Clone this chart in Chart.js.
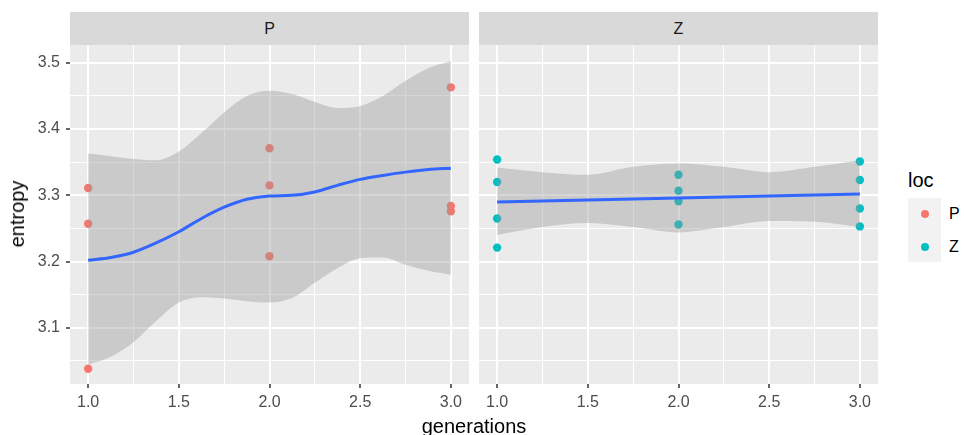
<!DOCTYPE html>
<html>
<head>
<meta charset="utf-8">
<script src="https://cdn.jsdelivr.net/npm/chart.js@4"></script>
<style>
  body { margin: 0; width: 964px; height: 435px; background: #fff; position: relative; overflow: hidden;
         font-family: "Liberation Sans", Arial, sans-serif; }
  canvas { position: absolute; top: 45px; }
  .strip { position: absolute; top: 12px; width: 399px; height: 33px; background: #D9D9D9; color: #1A1A1A;
           font-size: 16px; line-height: 33px; text-align: center; }
  .title { position: absolute; color: #000; font-size: 20px; line-height: 24px; white-space: nowrap; }
  .key { position: absolute; left: 908px; top: 198px; width: 33px; height: 64px; background: #F2F2F2; }
  .dot { position: absolute; width: 8.5px; height: 8.5px; border-radius: 50%; }
  .klab { position: absolute; left: 949px; font-size: 16px; line-height: 20px; color: #000; }
</style>
</head>
<body>
<div class="strip" style="left:70px">P</div>
<div class="strip" style="left:479px">Z</div>
<canvas id="panelP" width="469" height="390" style="left:0"></canvas>
<canvas id="panelZ" width="399" height="390" style="left:479px"></canvas>
<div class="title" style="left:474px; top:414px; transform:translateX(-50%)">generations</div>
<div class="title" style="left:17px; top:214px; transform:translate(-50%,-50%) rotate(-90deg)">entropy</div>
<div class="title" style="left:908px; top:168px">loc</div>
<div class="key"></div>
<div class="dot" style="left:920.75px; top:209.75px; background:#F8766D"></div>
<div class="dot" style="left:920.75px; top:242.75px; background:#00BFC4"></div>
<div class="klab" style="top:204px">P</div>
<div class="klab" style="top:237px">Z</div>
<script>
// raw points per facet
const pGen = [1, 1, 1, 2, 2, 2, 3, 3, 3];
const pEntropy = [3.311, 3.257, 3.038, 3.371, 3.315, 3.208, 3.463, 3.284, 3.276];
const zGen = [1, 1, 1, 1, 2, 2, 2, 2, 3, 3, 3, 3];
const zEntropy = [3.354, 3.320, 3.265, 3.221, 3.331, 3.307, 3.291, 3.256, 3.351, 3.323, 3.280, 3.253];

// loess fit + confidence band
const pSmoothX = [1, 1.125, 1.25, 1.375, 1.5, 1.625, 1.75, 1.875, 2,
                  2.125, 2.25, 2.375, 2.5, 2.625, 2.75, 2.875, 3];
const pFit = [3.202, 3.206, 3.214, 3.228, 3.245, 3.265, 3.282, 3.294, 3.299,
              3.300, 3.305, 3.315, 3.324, 3.330, 3.335, 3.339, 3.341];
const pUpper = [3.363, 3.359, 3.355, 3.353, 3.366, 3.394, 3.425, 3.450, 3.458,
                3.453, 3.441, 3.432, 3.435, 3.450, 3.473, 3.492, 3.503];
const pLower = [3.044, 3.056, 3.078, 3.110, 3.138, 3.146, 3.144, 3.140, 3.138,
                3.145, 3.168, 3.190, 3.205, 3.206, 3.195, 3.186, 3.180];

const zSmoothX = [1, 1.25, 1.5, 1.75, 2, 2.25, 2.5, 2.75, 3];
const zFit = [3.290, 3.2915, 3.293, 3.2945, 3.296, 3.2975, 3.299, 3.3005, 3.302];
const zUpper = [3.342, 3.335, 3.331, 3.343, 3.348, 3.343, 3.335, 3.343, 3.353];
const zLower = [3.240, 3.252, 3.258, 3.252, 3.244, 3.252, 3.261, 3.260, 3.252];

// axis ticks (majors get labels, the rest are minor grid lines)
const xTicks = [1, 1.25, 1.5, 1.75, 2, 2.25, 2.5, 2.75, 3];
const yTicks = [3.05, 3.1, 3.15, 3.2, 3.25, 3.3, 3.35, 3.4, 3.45, 3.5];

const FONT = '"Liberation Sans", Arial, sans-serif';

function isMajorX(v) { return Math.abs(v * 2 - Math.round(v * 2)) < 1e-6; }
function isMajorY(v) { return Math.abs(v * 10 - Math.round(v * 10)) < 1e-6; }

function pairs(xs, ys) { return ys.map((y, i) => ({x: xs[i], y: y})); }

const panelBg = {
    id: 'panelBg',
    beforeDraw(chart) {
        const a = chart.chartArea;
        chart.ctx.save();
        chart.ctx.fillStyle = '#EBEBEB';
        chart.ctx.fillRect(a.left, a.top, a.width, a.height);
        chart.ctx.restore();
    }
};

function makePanel(id, gx, gy, color, sx, fit, up, lo, showY) {
    new Chart(document.getElementById(id), {
        type: 'scatter',
        data: {
            datasets: [
                { type: 'line', data: pairs(sx, fit), borderColor: '#3366FF', borderWidth: 3,
                  pointRadius: 0, fill: false, cubicInterpolationMode: 'monotone', order: 0 },
                { type: 'line', data: pairs(sx, up), borderColor: 'transparent', borderWidth: 0,
                  pointRadius: 0, backgroundColor: 'rgba(153,153,153,0.4)', fill: '+1',
                  cubicInterpolationMode: 'monotone', order: 1 },
                { type: 'line', data: pairs(sx, lo), borderColor: 'transparent', borderWidth: 0,
                  pointRadius: 0, fill: false, cubicInterpolationMode: 'monotone', order: 2 },
                { data: pairs(gx, gy), backgroundColor: color, borderWidth: 0, pointRadius: 4.2, order: 3 }
            ]
        },
        options: {
            responsive: false,
            animation: false,
            layout: { padding: 0, autoPadding: false },
            plugins: { legend: { display: false }, tooltip: { enabled: false } },
            scales: {
                x: {
                    type: 'linear', min: 0.9, max: 3.1,
                    afterBuildTicks: s => { s.ticks = xTicks.map(v => ({value: v})); },
                    afterFit: s => { s.height = 51; s.paddingLeft = 0; s.paddingRight = 0; },
                    ticks: { autoSkip: false, maxRotation: 0, padding: 5, color: '#4D4D4D',
                             font: { family: FONT, size: 16 },
                             callback: v => isMajorX(v) ? v.toFixed(1) : '' },
                    grid: { color: '#FFFFFF', lineWidth: c => isMajorX(c.tick.value) ? 2 : 1,
                            tickLength: 4, tickWidth: 1.5,
                            tickColor: c => isMajorX(c.tick.value) ? '#333333' : 'rgba(0,0,0,0)' },
                    border: { display: false }
                },
                y: {
                    type: 'linear', min: 3.015, max: 3.527,
                    afterBuildTicks: s => { s.ticks = yTicks.map(v => ({value: v})); },
                    afterFit: s => { s.width = showY ? 70 : 0; s.paddingTop = 0; s.paddingBottom = 0; },
                    ticks: { display: showY, autoSkip: false, padding: 6, color: '#4D4D4D',
                             font: { family: FONT, size: 16 },
                             callback: v => isMajorY(v) ? v.toFixed(1) : '' },
                    grid: { color: '#FFFFFF', lineWidth: c => isMajorY(c.tick.value) ? 2 : 1,
                            drawTicks: showY, tickLength: 4, tickWidth: 1.5,
                            tickColor: c => isMajorY(c.tick.value) ? '#333333' : 'rgba(0,0,0,0)' },
                    border: { display: false }
                }
            }
        },
        plugins: [panelBg]
    });
}

makePanel('panelP', pGen, pEntropy, '#F8766D', pSmoothX, pFit, pUpper, pLower, true);
makePanel('panelZ', zGen, zEntropy, '#00BFC4', zSmoothX, zFit, zUpper, zLower, false);
</script>
</body>
</html>
